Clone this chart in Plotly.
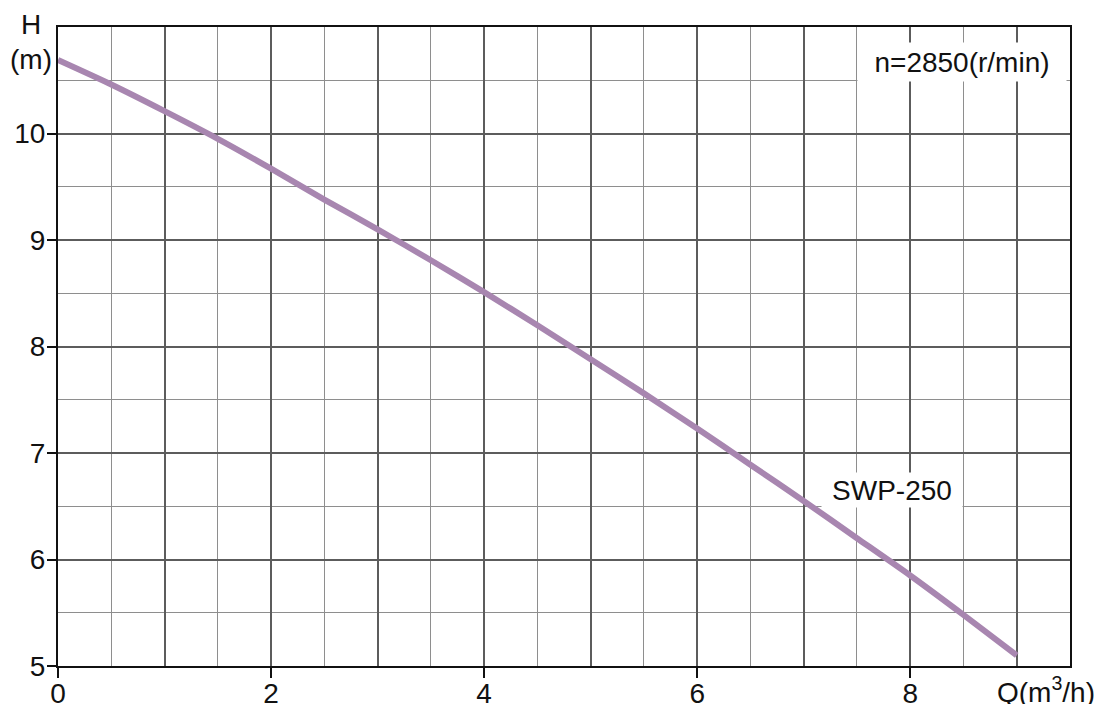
import plotly.graph_objects as go

# ── data ──
Q = [0, 0.5, 1, 1.5, 2, 2.5, 3, 3.5, 4, 4.5, 5, 5.5, 6, 6.5, 7, 7.5, 8, 8.5, 9]
H = [10.69, 10.46, 10.21, 9.95, 9.67, 9.38, 9.1, 8.81, 8.51, 8.2, 7.88,
     7.56, 7.23, 6.89, 6.55, 6.2, 5.85, 5.48, 5.1]

X_TICKS = [0, 2, 4, 6, 8]
X_ODD = [1, 3, 5, 7, 9]
X_HALF = [0.5, 1.5, 2.5, 3.5, 4.5, 5.5, 6.5, 7.5, 8.5, 9.5]
Y_TICKS = [5, 6, 7, 8, 9, 10]
Y_HALF = [5.5, 6.5, 7.5, 8.5, 9.5, 10.5]

CURVE_NAME = "SWP-250"
SPEED_TEXT = "n=2850(r/min)"

CURVE_COLOR = "#a886b0"
GRID_DARK = "#5c5c5c"
GRID_LIGHT = "#8e8e8e"
FONT = "Arial, Liberation Sans, sans-serif"
FS = 28

# the page body adds an 8px margin, so the figure is shrunk to fit the window
OFF = 8
W, HT = 1103 - OFF, 704 - OFF
# plot area edges in window pixels (from the reference)
X0, X1, Y0, Y1 = 58, 1070, 27, 666
L, T = X0 - OFF, Y0 - OFF
R, B = W - (X1 - OFF), HT - (Y1 - OFF)
PW, PH = X1 - X0, Y1 - Y0

fig = go.Figure()
fig.add_trace(go.Scatter(
    x=Q, y=H, mode="lines", xaxis="x2", yaxis="y",
    line=dict(color=CURVE_COLOR, width=6, shape="spline", smoothing=0.6),
    showlegend=False, hoverinfo="skip",
))

fig.update_layout(
    width=W, height=HT,
    margin=dict(l=L, r=R, t=T, b=B),
    paper_bgcolor="white", plot_bgcolor="white",
    font=dict(family=FONT, size=FS, color="#111"),
    xaxis=dict(
        range=[0, 9.5], tickmode="array", tickvals=X_TICKS,
        ticks="outside", ticklen=10, tickwidth=2, tickcolor="#111",
        ticklabelstandoff=-9,
        showgrid=True, gridcolor=GRID_DARK, gridwidth=1.5,
        minor=dict(tickvals=X_HALF, showgrid=True, gridcolor=GRID_LIGHT,
                   gridwidth=1, ticks=""),
        showline=True, linecolor="#111", linewidth=2, mirror=True,
        zeroline=False, fixedrange=True, automargin=False,
    ),
    xaxis2=dict(
        overlaying="x", matches="x", side="bottom",
        tickmode="array", tickvals=X_ODD, ticks="", showticklabels=False,
        showgrid=True, gridcolor=GRID_DARK, gridwidth=1.5,
        showline=False, zeroline=False, automargin=False,
    ),
    yaxis=dict(
        range=[5, 11], tickmode="array", tickvals=Y_TICKS,
        ticks="outside", ticklen=9, tickwidth=2, tickcolor="#111",
        ticklabelstandoff=-4,
        showgrid=True, gridcolor=GRID_DARK, gridwidth=1.5,
        minor=dict(tickvals=Y_HALF, showgrid=True, gridcolor=GRID_LIGHT,
                   gridwidth=1, ticks=""),
        showline=True, linecolor="#111", linewidth=2, mirror=True,
        zeroline=False, fixedrange=True, automargin=False,
    ),
)

# speed label box (white background hides grid lines)
fig.add_annotation(
    x=8.49, y=10.67, xref="x", yref="y", text=SPEED_TEXT, showarrow=False,
    bgcolor="white", width=206, height=36, font=dict(size=FS),
)
# curve label
fig.add_annotation(
    x=7.83, y=6.65, xref="x", yref="y", text=CURVE_NAME, showarrow=False,
    bgcolor="white", width=138, height=32, font=dict(size=FS),
)


# axis titles, placed by window pixels relative to the plot area
def px_note(text, px, py):
    fig.add_annotation(
        xref="x domain", yref="y domain",
        x=(px - X0) / PW, y=(Y1 - py) / PH,
        text=text, showarrow=False, xanchor="center", yanchor="middle",
        font=dict(size=FS),
    )


px_note("H", 31, 25)
px_note("(m)", 31, 60)
px_note("Q(m<sup>3</sup>/h)", 1046, 690)

fig.write_html("out.html")
